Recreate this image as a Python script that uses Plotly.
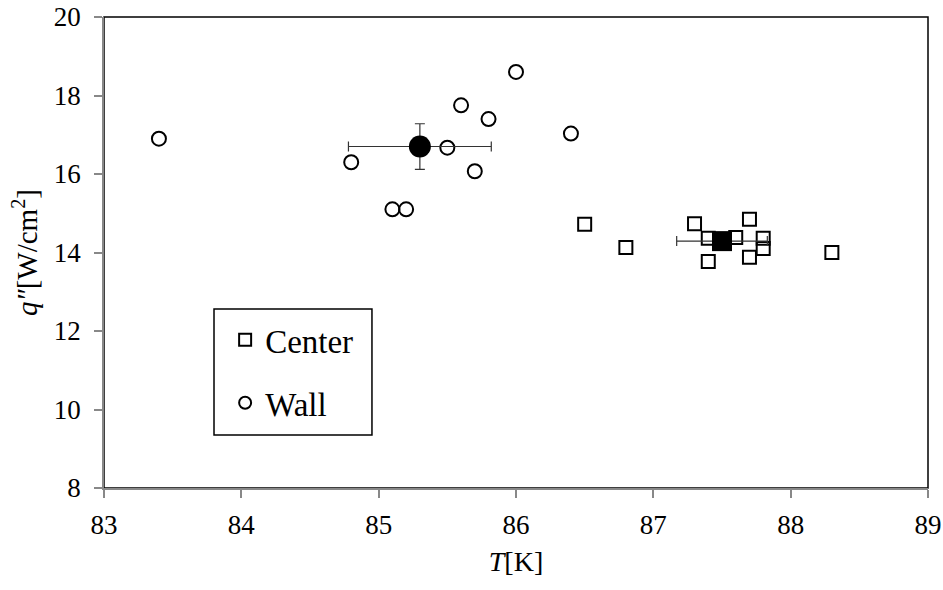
import plotly.graph_objects as go

# Data
wall_T = [83.4, 84.8, 85.1, 85.2, 85.5, 85.6, 85.7, 85.8, 86.0, 86.4]
wall_q = [16.9, 16.3, 15.1, 15.1, 16.67, 17.75, 16.07, 17.4, 18.6, 17.03]
center_T = [86.5, 86.8, 87.3, 87.4, 87.4, 87.6, 87.7, 87.7, 87.8, 87.8, 88.3]
center_q = [14.72, 14.13, 14.73, 14.36, 13.77, 14.38, 14.85, 13.88, 14.36, 14.1, 14.0]
wall_mean_T = [85.3]
wall_mean_q = [16.7]
wall_err_T = [0.52]
wall_err_q = [0.58]
center_mean_T = [87.5]
center_mean_q = [14.29]
center_err_T = [0.33]
center_err_q = [0.1]

x_ticks = [83, 84, 85, 86, 87, 88, 89]
y_ticks = [8, 10, 12, 14, 16, 18, 20]

FONT = "Liberation Serif"

fig = go.Figure()

fig.add_trace(go.Scatter(
    x=center_T, y=center_q, mode="markers", name="Center",
    legendgroup="c",
    marker=dict(symbol="square-open", size=13, color="black", line=dict(width=2, color="black")),
))
fig.add_trace(go.Scatter(
    x=wall_T, y=wall_q, mode="markers", name="Wall",
    legendgroup="w",
    marker=dict(symbol="circle-open", size=14, color="black", line=dict(width=2, color="black")),
))
fig.add_trace(go.Scatter(
    x=wall_mean_T, y=wall_mean_q, mode="markers", showlegend=False,
    marker=dict(symbol="circle", size=22, color="black"),
    error_x=dict(type="data", array=wall_err_T, color="#333333", thickness=1.2, width=5),
    error_y=dict(type="data", array=wall_err_q, color="#333333", thickness=1.2, width=5),
))
fig.add_trace(go.Scatter(
    x=center_mean_T, y=center_mean_q, mode="markers", showlegend=False,
    marker=dict(symbol="square", size=20, color="black"),
    error_x=dict(type="data", array=center_err_T, color="#333333", thickness=1.2, width=5),
    error_y=dict(type="data", array=center_err_q, color="#333333", thickness=1.2, width=5),
))

# plot-area border (top/right black)
fig.add_shape(type="rect", xref="paper", yref="paper", x0=0, x1=1, y0=0, y1=1,
              line=dict(color="black", width=1.5), layer="below")
# legend box
fig.add_shape(type="rect", xref="paper", yref="paper",
              x0=0.1335, x1=0.3252, y0=0.1125, y1=0.38,
              line=dict(color="black", width=1.5), fillcolor="white", layer="below")

fig.update_layout(
    width=943, height=590,
    margin=dict(l=104, r=15, t=17, b=102),
    paper_bgcolor="white", plot_bgcolor="white",
    font=dict(family=FONT, size=28, color="black"),
    showlegend=True,
    legend=dict(
        x=0.147, y=0.374, xanchor="left", yanchor="top",
        bgcolor="rgba(0,0,0,0)", borderwidth=0,
        font=dict(family=FONT, size=33, color="black"),
        traceorder="grouped", tracegroupgap=17,
        itemsizing="constant", itemwidth=30,
    ),
    xaxis=dict(
        range=[83, 89], tickvals=x_ticks, ticktext=[str(v) for v in x_ticks],
        showgrid=False, zeroline=False, showline=True, linecolor="#888888", linewidth=1.5,
        ticks="outside", ticklen=8, tickcolor="#888888", tickwidth=1.5,
        tickfont=dict(family=FONT, size=27), automargin=False, ticklabelstandoff=4,
        ticklabeloverflow="allow",
        title=dict(text="<i>T</i>[K]", font=dict(family=FONT, size=28), standoff=12),
    ),
    yaxis=dict(
        range=[8, 20], tickvals=y_ticks, ticktext=[str(v) for v in y_ticks],
        showgrid=False, zeroline=False, showline=True, linecolor="#888888", linewidth=1.5,
        ticks="outside", ticklen=8, tickcolor="#888888", tickwidth=1.5,
        tickfont=dict(family=FONT, size=27), automargin=False, ticklabelstandoff=8,
        ticklabeloverflow="allow",
        title=dict(text="<i>q″</i>[W/cm<sup>2</sup>]", font=dict(family=FONT, size=29), standoff=8),
    ),
)

fig.write_html("out.html", config={"displayModeBar": False},
               post_script="document.body.style.margin='0';")
